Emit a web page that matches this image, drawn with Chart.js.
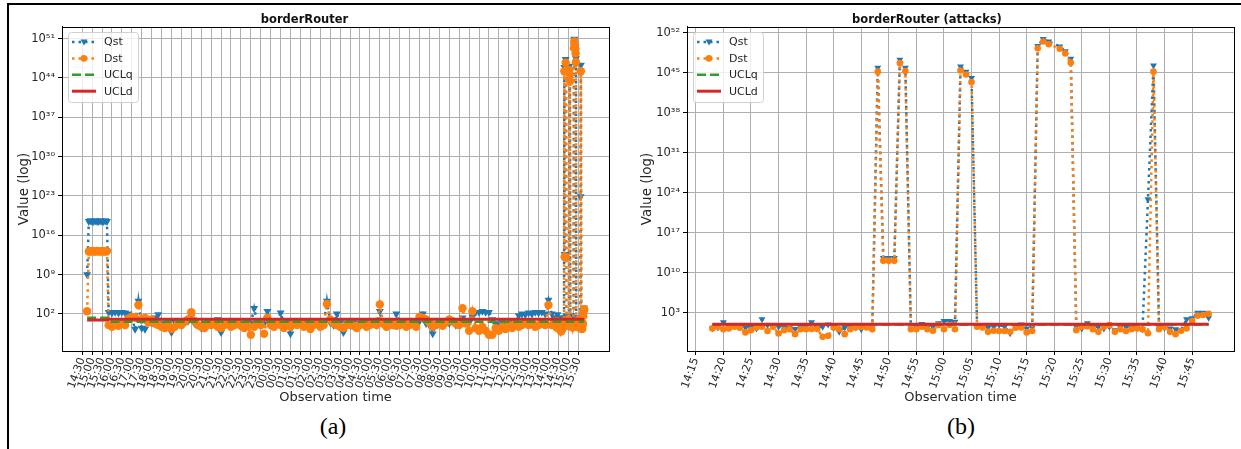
<!DOCTYPE html>
<html>
<head>
<meta charset="utf-8">
<script src="https://cdn.jsdelivr.net/npm/chart.js@4.4.1/dist/chart.umd.min.js"></script>
<style>
  body { margin: 0; background: #fff; width: 1241px; height: 449px; overflow: hidden; position: relative; }
  #frame { position: absolute; left: 7px; top: 3px; width: 1240px; height: 460px; border-top: 2px solid #000; border-left: 2px solid #000; }
  canvas { position: absolute; top: 0; }
  #chartA { left: 0; }
  #chartB { left: 620px; }
  .cap { position: absolute; top: 413px; width: 100px; text-align: center; font-family: "Liberation Serif", serif; font-size: 24px; color: #000; }
</style>
</head>
<body>
<div id="frame"></div>
<canvas id="chartA" width="620" height="410"></canvas>
<canvas id="chartB" width="620" height="410"></canvas>
<div class="cap" style="left:283px">(a)</div>
<div class="cap" style="left:911px">(b)</div>
<script>
// (a) whole run: minutes after 14:30 on day 1
const dayTimes = [15, 20, 25, 30, 35, 40, 45, 50, 55, 60, 65, 70, 75,
  80, 90, 100, 110, 120, 130, 140, 150, 160, 170,
  180, 190, 200, 210, 220, 230, 240, 250, 260, 270,
  280, 290, 300, 310, 320, 330, 340, 350, 360, 370,
  380, 390, 400, 410, 420, 430, 440, 450, 460, 470,
  480, 490, 500, 510, 520, 530, 540, 550, 560, 570,
  580, 590, 600, 610, 620, 630, 640, 650, 660, 670,
  680, 690, 700, 710, 720, 730, 740, 750, 760, 770,
  780, 790, 800, 810, 820, 830, 840, 850, 860, 870,
  880, 890, 900, 910, 920, 930, 940, 950, 960, 970,
  980, 990, 1000, 1010, 1020, 1030, 1040, 1050, 1060, 1070,
  1080, 1090, 1100, 1110, 1120, 1130, 1140, 1150, 1160, 1170,
  1180, 1190, 1200, 1210, 1220, 1230, 1240, 1250, 1260, 1270,
  1280, 1290, 1300, 1310, 1320, 1330, 1340, 1350, 1360, 1370,
  1380, 1390, 1400, 1410, 1420];
const dayQst = [1e9, 3e18, 4e18, 3e18, 3e18, 4e18, 3e18, 3e18, 4e18, 3e18, 3e18, 4e18, 3e18,
  2e2, 1.5e2, 2e2, 1.5e2, 2e2, 1.5e2, 1e2, 2e1, 2e-1, 2e4,
  3e-1, 2e-1, 5e0, 3e0, 2e1, 8e1, 2e0, 1e0, 3e0, 5e-2,
  4e0, 2e0, 1e0, 3e0, 5e0, 3e1, 2e0, 1e0, 3e-1, 2e0,
  1e0, 4e0, 2e0, 1e1, 5e-2, 3e0, 2e0, 1e0, 3e0, 6e0,
  2e0, 1e0, 3e0, 2e0, 1e3, 2e0, 1e0, 2e0, 3e2, 3e0,
  1e0, 5e0, 1.5e2, 2e0, 3e0, 3e-2, 4e0, 2e0, 5e0, 1e0,
  3e0, 5e-1, 2e0, 4e0, 2e0, 1e0, 2e4, 3e0, 1e0, 1e2,
  3e0, 5e-2, 2e0, 1e0, 3e0, 5e-1, 2e0, 4e0, 1e0, 3e0,
  2e0, 1e0, 3e2, 2e0, 5e-1, 3e0, 1e0, 1e2, 2e0, 4e0,
  1e0, 2e0, 3e0, 1e0, 5e0, 1e2, 2e0, 1e0, 3e-2, 2e0,
  5e0, 1e0, 3e0, 2e0, 4e0, 1e0, 3e0, 2e1, 5e0, 3e0,
  3e1, 2e2, 2e2, 3e2, 2e2, 2e2, 1e1, 2e0, 1e0, 3e0,
  2e0, 1e0, 3e0, 2e0, 5e1, 1e2, 8e1, 1.5e2, 1e2, 2e2,
  1.5e2, 2e2, 1e2, 3e4, 1e2];
const dayDst = [3e2, 1.3e13, 1.3e13, 1.6e13, 1.3e13, 1.3e13, 1.6e13, 1.3e13, 1.3e13, 1.6e13, 1.3e13, 1.3e13, 1.6e13,
  1e0, 5e-1, 1e0, 8e-1, 2e0, 1e0, 1.5e1, 3e1, 2e1, 4e3,
  1e1, 2e1, 3e0, 1e1, 2e0, 1e0, 5e-1, 3e-1, 1e0, 2e-1,
  5e-1, 2e0, 1e0, 4e0, 1e1, 2e2, 5e0, 1e0, 5e-1, 3e-1,
  2e0, 1e0, 3e0, 5e-1, 3e-1, 1e0, 2e0, 5e-1, 1e0, 2e0,
  8e-1, 3e-1, 1e0, 2e-2, 5e-1, 3e0, 1e0, 3e-2, 2e1, 1e0,
  5e-1, 2e0, 1e0, 3e-1, 1e0, 5e-1, 2e0, 1e0, 3e0, 5e-1,
  1e0, 2e-1, 1e0, 2e0, 5e-1, 1e0, 6e3, 1e1, 2e0, 1e0,
  5e-1, 3e-1, 1e0, 2e0, 8e-1, 3e-1, 1e0, 2e0, 5e-1, 1e0,
  3e0, 1e0, 5e3, 2e0, 5e-1, 1e0, 2e0, 8e-1, 1e0, 3e0,
  5e-1, 1e0, 2e0, 5e-1, 3e1, 2e1, 1e1, 3e0, 5e-1, 1e0,
  2e0, 8e-1, 3e0, 1e1, 5e0, 2e0, 1e0, 1e3, 2e0, 1e-1,
  3e2, 3e-1, 1e-1, 5e-1, 1e-1, 2e-2, 2e-2, 3e-1, 1e-1, 5e-1,
  2e-1, 1e0, 3e-1, 2e0, 5e-1, 1e0, 3e0, 1e0, 2e0, 5e-1,
  1e0, 3e0, 1e0, 4e3, 1e0];
const dayUclTimes = [15, 75, 80, 1518];
const dayUclq = [2e1, 2e1, 4e0, 4e0];
const dayUcld = [8e0, 8e0, 1.1e1, 1.1e1];
const dayXLabels = ['14:30', '15:00', '15:30', '16:00', '16:30', '17:00', '17:30', '18:00', '18:30', '19:00',
  '19:30', '20:00', '20:30', '21:00', '21:30', '22:00', '22:30', '23:00', '23:30', '00:00',
  '00:30', '01:00', '01:30', '02:00', '02:30', '03:00', '03:30', '04:00', '04:30', '05:00',
  '05:30', '06:00', '06:30', '07:00', '07:30', '08:00', '08:30', '09:00', '09:30', '10:00',
  '10:30', '11:00', '11:30', '12:00', '12:30', '13:00', '13:30', '14:00', '14:30', '15:00', '15:30'];
const dayYTicks = [1e2, 1e9, 1e16, 1e23, 1e30, 1e37, 1e44, 1e51];
const dayYLabels = ['10²', '10⁹', '10¹⁶', '10²³', '10³⁰', '10³⁷', '10⁴⁴', '10⁵¹'];

// (b) attack window: minutes after 14:00 on day 2
const attackTimes = [18, 19, 20, 21, 22, 23, 24, 25, 26, 27, 28, 29, 30, 31, 32, 33, 34, 35, 36, 37,
  38, 39, 40, 41, 42, 43, 44, 45, 46, 47, 48, 49, 50, 51, 52, 53, 54, 55, 56, 57,
  58, 59, 60, 61, 62, 63, 64, 65, 66, 67, 68, 69, 70, 71, 72, 73, 74, 75, 76, 77,
  78, 79, 81, 82, 83, 84, 85, 86, 87, 88, 89, 90, 91, 92, 93, 94, 95, 96, 97, 98,
  99, 100, 101, 102, 103, 104, 105, 106, 107, 108];
const attackQst = [2e0, 3e0, 2.3e1, 4e0, 8e0, 4e0, 3e0, 4e0, 2e0, 8e1, 8e0, 5e0, 4e0, 3e0, 2.7e0, 1.6e0, 4e0, 4e0, 2.3e1, 3e0,
  4e0, 1e1, 3e0, 5e-1, 3e0, 4e0, 3e0, 1.4e0, 4e0, 2e0, 8e45, 4e12, 4e12, 4e12, 2e47, 8e45, 2e0, 4e0, 1.2e1, 3e0,
  4e0, 1.6e1, 4e1, 4e1, 3e1, 1.3e46, 1.6e45, 1.3e44, 8e0, 4e0, 3e0, 4e0, 8e0, 4e0, 2.8e-1, 4e0, 1e1, 2e0, 3e0, 5e49,
  8e50, 3e50, 4e49, 6e48, 3e47, 4e0, 2e0, 1.6e1, 3e0, 4e0, 2e0, 4e0, 1e0, 3e0, 4e0, 3e0, 2.7e0, 1.4e0, 8e22, 2e46,
  4e0, 2.7e0, 2e0, 1.4e0, 1e0, 8e1, 1.2e2, 1.1e3, 1.1e3, 1.5e2];
const attackDst = [2e0, 4e0, 1.4e0, 2e0, 4e0, 2.7e0, 4e-1, 1e0, 3e0, 4e0, 7e-1, 4e0, 2.5e-1, 1e0, 1.4e0, 2e-1, 1.4e0, 1.4e0, 1.6e0, 1.6e0,
  7e-2, 1e-1, 3e0, 1.4e0, 2e-1, 1.4e0, 3e0, 4e0, 3e0, 1.4e0, 1.6e45, 1.3e12, 1.3e12, 1.3e12, 5e46, 2e45, 1.4e0, 1.4e0, 4e0, 1.4e0,
  8e-1, 8e0, 1.4e0, 8e0, 1.4e0, 2.5e45, 5e44, 2.5e43, 4e0, 3e0, 5e-1, 8e-1, 7e-1, 7e-1, 5e-1, 2.7e0, 3e0, 4e-1, 7e-1, 2e49,
  3e50, 1e50, 1.6e49, 2.5e48, 6e46, 1e0, 4e0, 5e0, 1.4e0, 5e-1, 4e0, 8e0, 5e-1, 1.4e0, 7e-1, 1.4e0, 2e0, 1.4e0, 2.8e-1, 1.6e45,
  1.4e0, 4e0, 5e-1, 2e-1, 8e-1, 2e0, 4e1, 3.4e2, 4.5e2, 7e2];
const attackUclTimes = [18, 108];
const attackUclq = [1e1, 1e1];
const attackUcld = [1.1e1, 1.1e1];
const attackXLabels = ['14:15', '14:20', '14:25', '14:30', '14:35', '14:40', '14:45', '14:50', '14:55', '15:00',
  '15:05', '15:10', '15:15', '15:20', '15:25', '15:30', '15:35', '15:40', '15:45'];
const attackYTicks = [1e3, 1e10, 1e17, 1e24, 1e31, 1e38, 1e45, 1e52];
const attackYLabels = ['10³', '10¹⁰', '10¹⁷', '10²⁴', '10³¹', '10³⁸', '10⁴⁵', '10⁵²'];

// day-2 14:00 is 1410 minutes after day-1 14:30, the attack window is the tail of (a)
const fullTimes = dayTimes.concat(attackTimes.map(m => m + 1410));
const fullQst = dayQst.concat(attackQst);
const fullDst = dayDst.concat(attackDst);

const pts = (xs, ys) => xs.map((x, i) => ({ x: x, y: ys[i] }));

Chart.defaults.font.family = '"DejaVu Sans", sans-serif';
Chart.defaults.color = '#262626';

function datasets(t, q, d, ut, uq, ud, qr, dr) {
  return [
    { label: 'Qst', data: pts(t, q), borderColor: '#1f77b4', backgroundColor: '#1f77b4',
      borderWidth: 2.5, borderDash: [2.5, 4], pointStyle: 'triangle', pointRotation: 180,
      pointRadius: qr, pointBorderWidth: 0, order: 4 },
    { label: 'Dst', data: pts(t, d), borderColor: '#ff7f0e', backgroundColor: '#ff7f0e',
      borderWidth: 2.5, borderDash: [2.5, 4], pointStyle: 'circle',
      pointRadius: dr, pointBorderWidth: 0, order: 3 },
    { label: 'UCLq', data: pts(ut, uq), borderColor: '#2ca02c', borderWidth: 2.5,
      borderDash: [9, 4], pointRadius: 0, order: 2 },
    { label: 'UCLd', data: pts(ut, ud), borderColor: '#d62728', borderWidth: 3,
      pointRadius: 0, order: 1 },
  ];
}

// matplotlib-like legend inside the axes, plus the top/right spines
const boxLegend = {
  id: 'boxLegend',
  afterDraw(chart) {
    const { ctx, chartArea } = chart;
    const a = chartArea;
    ctx.save();
    ctx.strokeStyle = '#000';
    ctx.lineWidth = 1;
    ctx.strokeRect(Math.round(a.left) + 0.5, Math.round(a.top) + 0.5,
      Math.round(a.right - a.left), Math.round(a.bottom - a.top));

    const x0 = Math.round(a.left) + 6, y0 = Math.round(a.top) + 5;
    ctx.fillStyle = 'rgba(255,255,255,0.8)';
    ctx.strokeStyle = '#d0d0d0';
    ctx.beginPath();
    ctx.roundRect(x0 + 0.5, y0 + 0.5, 70, 70, 3);
    ctx.fill();
    ctx.stroke();

    chart.data.datasets.forEach((ds, i) => {
      const y = y0 + 10 + i * 16.4;
      ctx.strokeStyle = ds.borderColor;
      ctx.lineWidth = ds.borderWidth;
      ctx.setLineDash(ds.borderDash || []);
      ctx.beginPath();
      ctx.moveTo(x0 + 4, y);
      ctx.lineTo(x0 + 28, y);
      ctx.stroke();
      ctx.setLineDash([]);
      ctx.fillStyle = ds.borderColor;
      if (ds.pointStyle === 'triangle') {
        ctx.beginPath();
        ctx.moveTo(x0 + 16 - 3.5, y - 2.5);
        ctx.lineTo(x0 + 16 + 3.5, y - 2.5);
        ctx.lineTo(x0 + 16, y + 3.5);
        ctx.closePath();
        ctx.fill();
      } else if (ds.pointStyle === 'circle') {
        ctx.beginPath();
        ctx.arc(x0 + 16, y, 3.3, 0, Math.PI * 2);
        ctx.fill();
      }
      ctx.fillStyle = '#262626';
      ctx.font = '11px "DejaVu Sans"';
      ctx.textBaseline = 'middle';
      ctx.fillText(ds.label, x0 + 36, y + 0.5);
    });
    ctx.restore();
  }
};

function options(title, xMin, xMax, xTicks, xLabels, yMin, yMax, yTicks, yLabels, yWidth, yTitlePad, padRight) {
  return {
    responsive: false,
    animation: false,
    devicePixelRatio: 1,
    events: [],
    layout: { padding: { left: 0, right: padRight, top: 0, bottom: 0 } },
    plugins: {
      legend: { display: false },
      tooltip: { enabled: false },
      title: { display: true, text: title, color: '#111', font: { size: 11.5, weight: 'bold' },
        padding: { top: 13, bottom: 0 } },
    },
    scales: {
      x: {
        type: 'linear', min: xMin, max: xMax, bounds: 'data',
        afterBuildTicks: s => { s.ticks = xTicks.map(v => ({ value: v })); },
        afterFit: s => { s.height = 59; },
        ticks: { autoSkip: false, minRotation: 70, maxRotation: 70, padding: 1,
          font: { size: 11 }, callback: (v, i) => xLabels[i] },
        grid: { color: '#b0b0b0', lineWidth: 1, tickColor: '#000', tickLength: 4 },
        border: { color: '#000', width: 1 },
        title: { display: true, text: 'Observation time', font: { size: 13 }, padding: { top: 0, bottom: 5 } },
      },
      y: {
        type: 'logarithmic', min: yMin, max: yMax, bounds: 'data',
        afterBuildTicks: s => { s.ticks = yTicks.map(v => ({ value: v })); },
        afterFit: s => { s.width = yWidth; },
        ticks: { autoSkip: false, padding: 3, font: { size: 11.5 }, callback: (v, i) => yLabels[i] },
        grid: { color: '#b0b0b0', lineWidth: 1, tickColor: '#000', tickLength: 4 },
        border: { color: '#000', width: 1 },
        title: { display: true, text: 'Value (log)', font: { size: 13.5 }, padding: { top: yTitlePad, bottom: 0 } },
      },
    },
  };
}

const dayXTicks = dayXLabels.map((_, i) => i * 30);
const attackXTicks = attackXLabels.map((_, i) => 15 + i * 5);

new Chart(document.getElementById('chartA'), {
  type: 'line',
  data: { datasets: datasets(fullTimes, fullQst, fullDst, dayUclTimes, dayUclq, dayUcld, 4.6, 4.2) },
  options: options('borderRouter', -61, 1593, dayXTicks, dayXLabels,
    2.5e-5, 1.26e53, dayYTicks, dayYLabels, 62, 16, 11),
  plugins: [boxLegend],
});

new Chart(document.getElementById('chartB'), {
  type: 'line',
  data: { datasets: datasets(attackTimes, attackQst, attackDst, attackUclTimes, attackUclq, attackUcld, 4, 3.3) },
  options: options('borderRouter (attacks)', 13.4, 112.6, attackXTicks, attackXLabels,
    2.24e-4, 1.12e53, attackYTicks, attackYLabels, 67, 19, 6),
  plugins: [boxLegend],
});
</script>
</body>
</html>
